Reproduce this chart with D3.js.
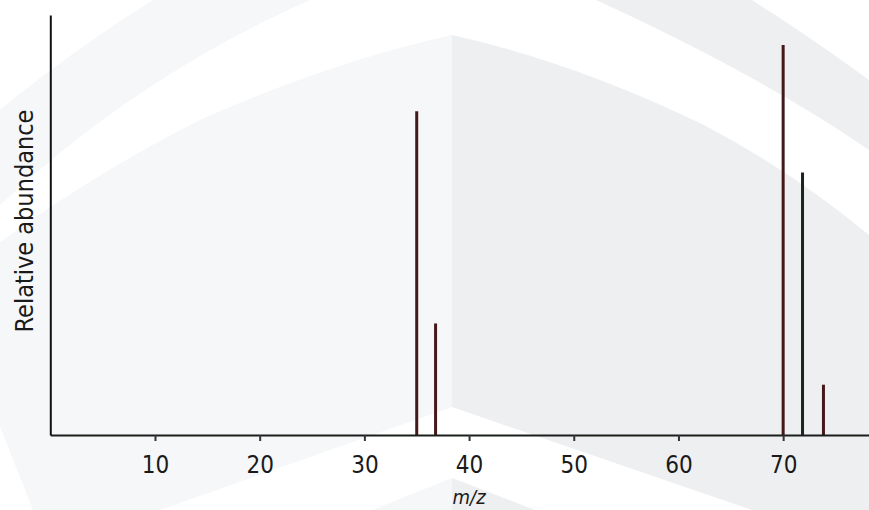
<!DOCTYPE html>
<html>
<head>
<meta charset="utf-8">
<script src="https://cdn.jsdelivr.net/npm/d3@7"></script>
<style>
  html, body { margin: 0; padding: 0; background: #ffffff; }
  svg { display: block; }
</style>
</head>
<body>
<svg id="chart" width="869" height="510"></svg>
<script>
// ---- data ----
const masses = [35, 36.8, 70, 71.85, 73.85];
const abundances = [83, 28.6, 100, 67.3, 12.9];
const peakColors = ["#45191a", "#45191a", "#45191a", "#1c241e", "#45191a"];
const xTicks = [10, 20, 30, 40, 50, 60, 70];
const xLabel = "m/z";
const yLabel = "Relative abundance";

const svg = d3.select("#chart");
const FONT = "'DejaVu Sans Condensed', 'DejaVu Sans', sans-serif";

// ---- background watermark ----
const bg = svg.append("g");
const light = "#f6f7f9", dark = "#eeeff1";
// outer arch band
bg.append("path").attr("fill", light)
  .attr("d", "M0,110 Q70,52 153,0 L310,0 Q140,75 0,205 Z");
bg.append("path").attr("fill", dark)
  .attr("d", "M752,0 Q815,40 869,80 L869,150 Q760,75 596,0 Z");
// inner roof
bg.append("path").attr("fill", light)
  .attr("d", "M452,35 Q330,62 200,120 Q100,170 0,242 L0,427 L33,510 L160,510 L452,407 Z");
bg.append("path").attr("fill", dark)
  .attr("d", "M452,35 Q574,62 704,125 Q790,170 869,235 L869,510 L752,510 L452,407 Z");
// lower chevron
bg.append("path").attr("fill", light)
  .attr("d", "M452,478 L372,510 L452,510 Z");
bg.append("path").attr("fill", dark)
  .attr("d", "M452,478 L535,510 L452,510 Z");

// ---- scales ----
const x = d3.scaleLinear().domain([0, 78.2]).range([50.3, 869]);
const y = d3.scaleLinear().domain([0, 100]).range([435, 45]);

// ---- peaks ----
const peaks = masses.map((m, i) => ({ m, a: abundances[i], c: peakColors[i] }));
svg.append("g").selectAll("line").data(peaks).join("line")
  .attr("x1", d => x(d.m)).attr("x2", d => x(d.m))
  .attr("y1", y(0)).attr("y2", d => y(d.a))
  .attr("stroke", d => d.c).attr("stroke-width", 3);

// ---- axes ----
const xAxis = d3.axisBottom(x).tickValues(xTicks).tickSize(6).tickSizeOuter(0).tickPadding(15);
const gx = svg.append("g").attr("transform", `translate(0,${y(0)})`).call(xAxis);
gx.select(".domain").attr("stroke", "#1b1f1b").attr("stroke-width", 2);
gx.selectAll(".tick line").attr("stroke", "#333").attr("stroke-width", 2);
gx.selectAll(".tick text")
  .attr("fill", "#1a1a1a")
  .attr("font-family", FONT)
  .attr("font-stretch", "condensed")
  .attr("font-size", 24)
  .attr("dy", "0.71em");

const yAxis = d3.axisLeft(d3.scaleLinear().domain([0, 107.7]).range([435, 15]))
  .tickValues([]).tickSizeOuter(0);
const gy = svg.append("g").attr("transform", `translate(50.3,0)`).call(yAxis);
gy.select(".domain").attr("stroke", "#111").attr("stroke-width", 2);

// ---- labels ----
svg.append("text")
  .attr("x", x(40)).attr("y", 504)
  .attr("text-anchor", "middle")
  .attr("font-family", FONT)
  .attr("font-stretch", "condensed")
  .attr("font-style", "italic")
  .attr("font-size", 20)
  .attr("fill", "#1a1a1a")
  .text(xLabel);

svg.append("text")
  .attr("transform", "translate(33,221) rotate(-90)")
  .attr("text-anchor", "middle")
  .attr("font-family", FONT)
  .attr("font-stretch", "condensed")
  .attr("font-size", 25)
  .attr("fill", "#1a1a1a")
  .text(yLabel);
</script>
</body>
</html>
